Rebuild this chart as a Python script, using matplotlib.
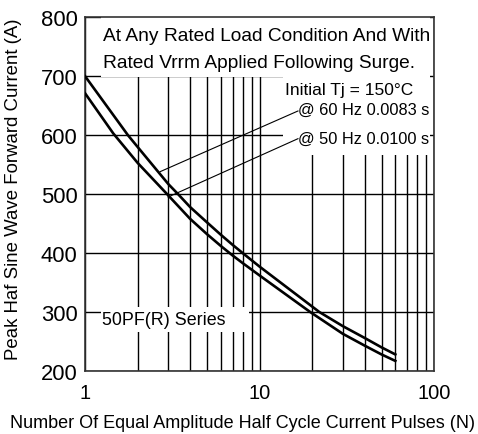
import matplotlib
matplotlib.use("Agg")
import matplotlib.pyplot as plt
from matplotlib.patches import Rectangle
from matplotlib.ticker import FixedLocator, FixedFormatter, NullFormatter

# values
pulses_60 = [1, 1.76, 2, 3, 3.41, 4, 5, 6, 7, 8, 10, 22, 30, 40, 50, 60]
i_60hz = [700, 600, 580, 517, 500, 478, 452, 431, 414, 400, 377, 300, 276, 256, 240, 228]
pulses_50 = [1, 1.45, 2, 2.95, 4, 5, 6, 7, 8, 10, 19.5, 30, 40, 50, 60]
i_50hz = [671, 603, 553, 500, 458, 432, 412, 396, 383, 362, 300, 263, 243, 228, 217]

x_ticks = [1, 10, 100]
x_tick_labels = ['1', '10', '100']
x_minor = [2, 3, 4, 5, 6, 7, 8, 9, 20, 30, 40, 50, 60, 70, 80, 90]
y_ticks = [200, 300, 400, 500, 600, 700, 800]

title_lines = ["At Any Rated Load Condition And With",
               "Rated Vrrm Applied Following Surge."]
tj_label = "Initial Tj = 150\u00b0C"
lbl_60 = "@ 60 Hz 0.0083 s"
lbl_50 = "@ 50 Hz 0.0100 s"
series_label = "50PF(R) Series"

# pointer lines (start on curve, end at label)
ptr_60 = ([2.69, 16.6], [538, 641])
ptr_50 = ([2.99, 16.6], [495, 594])

plt.rcParams['font.family'] = ['Liberation Sans', 'DejaVu Sans']

fig = plt.figure(figsize=(4.78, 4.35), dpi=100)
ax = fig.add_axes([0.178, 0.145, 0.730, 0.813])
ax.set_xscale('log')
ax.set_xlim(1, 100)
ax.set_ylim(200, 800)

ax.xaxis.set_major_locator(FixedLocator(x_ticks))
ax.xaxis.set_major_formatter(FixedFormatter(x_tick_labels))
ax.xaxis.set_minor_locator(FixedLocator(x_minor))
ax.xaxis.set_minor_formatter(NullFormatter())
ax.yaxis.set_major_locator(FixedLocator(y_ticks))
ax.tick_params(which='both', length=0)
ax.tick_params(axis='y', labelsize=15.8, pad=5.5)
ax.tick_params(axis='x', labelsize=14.5, pad=9)

ax.grid(True, which='both', color='black', linewidth=1.0, zorder=1)
ax.set_axisbelow(True)
for s in ax.spines.values():
    s.set_color('#333333')
    s.set_linewidth(1.2)

# white masks behind the text blocks
for (x0, y0, w, h) in [(0.046, 0.830, 0.943, 0.170),
                       (0.567, 0.611, 0.422, 0.222),
                       (0.046, 0.110, 0.424, 0.071)]:
    ax.add_patch(Rectangle((x0, y0), w, h, transform=ax.transAxes,
                           facecolor='white', edgecolor='none', zorder=2))

ax.plot(pulses_60, i_60hz, color='black', linewidth=1.9, zorder=4)
ax.plot(pulses_50, i_50hz, color='black', linewidth=1.9, zorder=4)
ax.plot(*ptr_60, color='black', linewidth=0.8, zorder=4)
ax.plot(*ptr_50, color='black', linewidth=0.8, zorder=4)

ax.text(0.051, 0.948, title_lines[0], transform=ax.transAxes, ha='left', va='center', fontsize=13.8, zorder=5)
ax.text(0.051, 0.872, title_lines[1], transform=ax.transAxes, ha='left', va='center', fontsize=13.8, zorder=5)
ax.text(14.0, 678, tj_label, ha='left', va='center', fontsize=12.5, zorder=5)
ax.text(16.6, 643, lbl_60, ha='left', va='center', fontsize=11.8, zorder=5)
ax.text(16.6, 595, lbl_50, ha='left', va='center', fontsize=11.8, zorder=5)
ax.text(0.049, 0.146, series_label, transform=ax.transAxes, ha='left', va='center', fontsize=12.9, zorder=5)

fig.text(14 / 478, 1 - 189 / 435, 'Peak Haf Sine Wave Forward Current (A)', rotation=90,
         ha='center', va='center', fontsize=13.4)
fig.text(242 / 478, 1 - 424 / 435, 'Number Of Equal Amplitude Half Cycle Current Pulses (N)',
         ha='center', va='center', fontsize=13)

fig.savefig('out.png', dpi=100)
